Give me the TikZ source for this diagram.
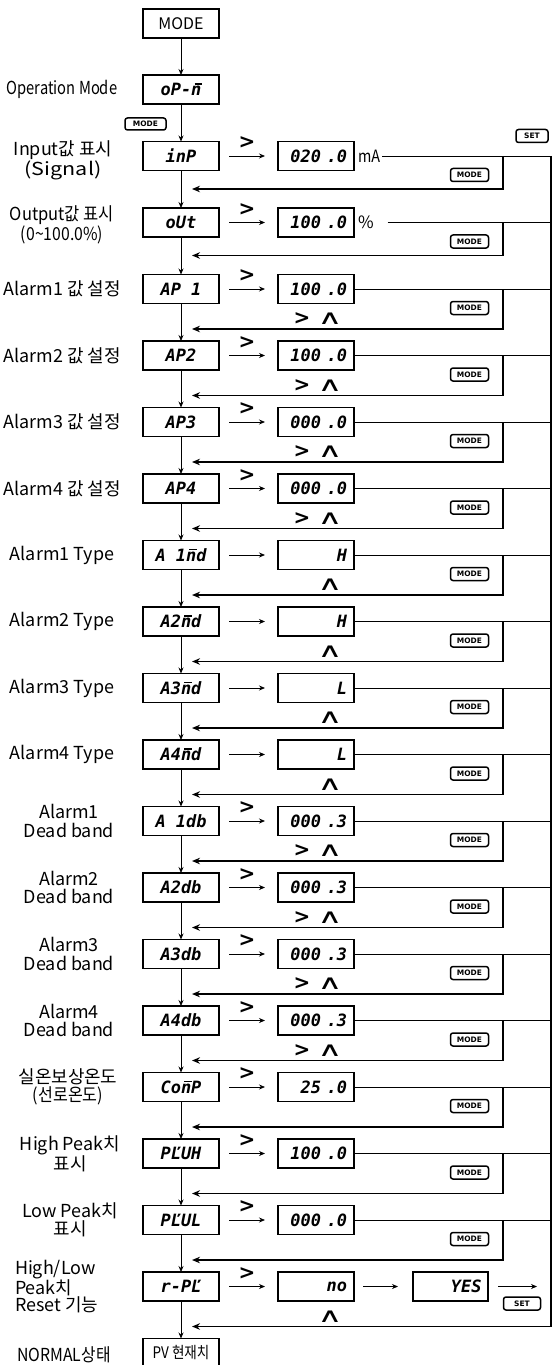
\documentclass[tikz,border=0pt]{standalone}
\usepackage{graphicx}
\usepackage{fontspec}
\setmainfont{Noto Sans CJK KR}
\newfontfamily\seg{DejaVu Sans Mono}
\newfontfamily\symf{DejaVu Sans}
\usetikzlibrary{arrows.meta}
\newcommand\nm{\makebox[0pt][l]{\kern0.2em\raisebox{0.66em}{\rule{0.42em}{0.09em}}}n}
\newcommand\sx[2]{\scalebox{#1}[1]{#2}}
\begin{document}
\begin{tikzpicture}[x=1bp,y=-1bp,
  every node/.style={inner sep=0pt, outer sep=0pt},
  lbl/.style={align=center, font=\fontsize{18}{18.5}\selectfont},
  dbox/.style={draw, line width=1.1bp, minimum width=76bp, minimum height=29bp, font=\seg\bfseries\itshape\fontsize{17}{17}\selectfont},
  vbox/.style={dbox, text width=62bp, align=right},
  btn/.style={draw, rounded corners=2.5bp, line width=1.5bp, minimum width=38bp, minimum height=13bp, font=\symf\bfseries\fontsize{7.5}{7.5}\selectfont},
  arr/.style={-{Stealth[length=6bp,width=5bp]}, line width=0.8bp},
  ret/.style={-{Stealth[length=8bp,width=6.5bp]}, line width=1.4bp},
  hl/.style={line width=0.7bp},
  sym/.style={font=\symf\bfseries\fontsize{20}{20}\selectfont},
  wedge/.style={font=\symf\fontsize{20}{20}\selectfont},
  unit/.style={font=\fontsize{17}{17}\selectfont, anchor=west},
]
\useasboundingbox (0,0) rectangle (553,1365);
\clip (0,0) rectangle (553,1365);
\fill[white] (0,0) rectangle (553,1365);

% left column boxes
\node[dbox, font=\fontsize{16}{16}\selectfont] (b0) at (181,23.5) {MODE};
\node[dbox] (b1) at (181,89.5) {oP-\nm};
\node[dbox] (b2) at (181,156) {inP};
\node[dbox] (b3) at (181,222.5) {oUt};
\node[dbox] (b4) at (181,289) {AP 1};
\node[dbox] (b5) at (181,355.5) {AP2};
\node[dbox] (b6) at (181,422) {AP3};
\node[dbox] (b7) at (181,488.5) {AP4};
\node[dbox] (b8) at (181,555) {A 1\nm d};
\node[dbox] (b9) at (181,621.5) {A2\nm d};
\node[dbox] (b10) at (181,688) {A3\nm d};
\node[dbox] (b11) at (181,754.5) {A4\nm d};
\node[dbox] (b12) at (181,821) {A 1db};
\node[dbox] (b13) at (181,887.5) {A2db};
\node[dbox] (b14) at (181,954) {A3db};
\node[dbox] (b15) at (181,1020.5) {A4db};
\node[dbox] (b16) at (181,1087) {Co\nm P};
\node[dbox] (b17) at (181,1153.5) {PĽUH};
\node[dbox] (b18) at (181,1220) {PĽUL};
\node[dbox] (b19) at (181,1286.5) {r-PĽ};
\node[dbox, font=\fontsize{16}{16}\selectfont] (b20) at (181,1353) {\sx{0.85}{PV 현재치}};

% value boxes
\node[vbox] (v2) at (316,156) {020 .0};
\node[vbox] (v3) at (316,222.5) {100 .0};
\node[vbox] (v4) at (316,289) {100 .0};
\node[vbox] (v5) at (316,355.5) {100 .0};
\node[vbox] (v6) at (316,422) {000 .0};
\node[vbox] (v7) at (316,488.5) {000 .0};
\node[vbox] (v8) at (316,555) {H};
\node[vbox] (v9) at (316,621.5) {H};
\node[vbox] (v10) at (316,688) {L};
\node[vbox] (v11) at (316,754.5) {L};
\node[vbox] (v12) at (316,821) {000 .3};
\node[vbox] (v13) at (316,887.5) {000 .3};
\node[vbox] (v14) at (316,954) {000 .3};
\node[vbox] (v15) at (316,1020.5) {000 .3};
\node[vbox] (v16) at (316,1087) {25 .0};
\node[vbox] (v17) at (316,1153.5) {100 .0};
\node[vbox] (v18) at (316,1220) {000 .0};
\node[vbox] (v19) at (316,1286.5) {no};
\node[vbox, minimum width=75bp] (y19) at (450.5,1286.5) {YES};

\node[unit] (u2) at (358,156) {\sx{0.85}{mA}};
\node[unit] (u3) at (358,222.5) {\%};

% left labels
\node[lbl] (l1) at (62,89.5) {\sx{0.82}{Operation Mode}};
\node[lbl] (l2) at (63,160) {Input값 표시\\\sx{1.2}{(Signal)}};
\node[lbl] (l3) at (62,225) {\sx{0.92}{Output값 표시}\\\sx{0.88}{(0\textasciitilde100.0\%)}};
\node[lbl] (l4) at (62,289) {Alarm1 값 설정};
\node[lbl] (l5) at (62,355.5) {Alarm2 값 설정};
\node[lbl] (l6) at (62,422) {Alarm3 값 설정};
\node[lbl] (l7) at (62,488.5) {Alarm4 값 설정};
\node[lbl] (l8) at (62,555) {Alarm1 Type};
\node[lbl] (l9) at (62,621.5) {Alarm2 Type};
\node[lbl] (l10) at (62,688) {Alarm3 Type};
\node[lbl] (l11) at (62,754.5) {Alarm4 Type};
\node[lbl] (l12) at (69,821) {Alarm1\\Dead band};
\node[lbl] (l13) at (69,887.5) {Alarm2\\Dead band};
\node[lbl] (l14) at (69,954) {Alarm3\\Dead band};
\node[lbl] (l15) at (69,1020.5) {Alarm4\\Dead band};
\node[lbl] (l16) at (68,1087) {실온보상온도\\\sx{0.9}{(선로온도)}};
\node[lbl] (l17) at (70,1153.5) {High Peak치\\표시};
\node[lbl] (l18) at (70,1220) {Low Peak치\\표시};
\node[lbl, align=left, anchor=west, font=\fontsize{18}{15.5}\selectfont] (l19) at (15,1286.5) {High/Low\\Peak치\\Reset 기능};
\node[lbl] (l20) at (64,1355) {\sx{0.88}{NORMAL상태}};

% buttons
\node[btn, minimum width=41bp, minimum height=12bp] (m1) at (145.5,124) {MODE};
\node[btn, minimum width=32bp] (settop) at (532,136) {SET};
\node[btn, minimum width=37bp] (setbot) at (522,1303.5) {SET};

% down arrows
\foreach \i [evaluate=\i as \j using int(\i-1)] in {1,...,20}
  \draw[arr] (b\j) -- (b\i);

% right arrows
\foreach \i in {2,...,19}
  \draw[arr, shorten <=10bp, shorten >=13bp] (b\i) -- (v\i);
\draw[arr, shorten <=9bp, shorten >=15bp] (v19) -- (y19);
\coordinate (s19) at (537,1286.5);
\draw[arr, shorten <=10bp] (y19) -- (s19);

% > and wedge symbols
\foreach \i in {2,3,4,5,6,7,12,13,14,15,16,17,18,19}
  \node[sym] (gt\i) at (247,{23+66.5*\i-13}) {>};
\foreach \i in {4,5,6,7,12,13,14,15}
  \node[sym] (ga\i) at (302,{23+66.5*\i+30}) {>};
\foreach \i in {4,5,6,7,8,9,10,11,12,13,14,15,19}
  \node[wedge] (up\i) at (330,{23+66.5*\i+30}) {\sx{1.7}{∧}};

% return loops
\foreach \i in {2,...,18} {
  \pgfmathsetmacro\cy{23+66.5*\i}
  \pgfmathsetmacro\ry{\cy + (\i<4 ? 33 : 40)}
  \coordinate (j\i) at (503,\cy);
  \coordinate (k\i) at (551,\cy);
  \coordinate (rt\i) at (192,\ry);
  \draw[ret] (j\i) |- (rt\i);
  \node[btn] (m\i) at (469.5,\cy+19) {MODE};
}
\draw[hl, shorten <=2bp] (u2) -- (k2);
\draw[hl, shorten <=14bp] (u3) -- (k3);
\foreach \i in {4,...,18}
  \draw[hl] (v\i) -- (k\i);
\coordinate (rt19) at (192,1326.5);
\draw[ret] (k2) |- (rt19);
\end{tikzpicture}
\end{document}
